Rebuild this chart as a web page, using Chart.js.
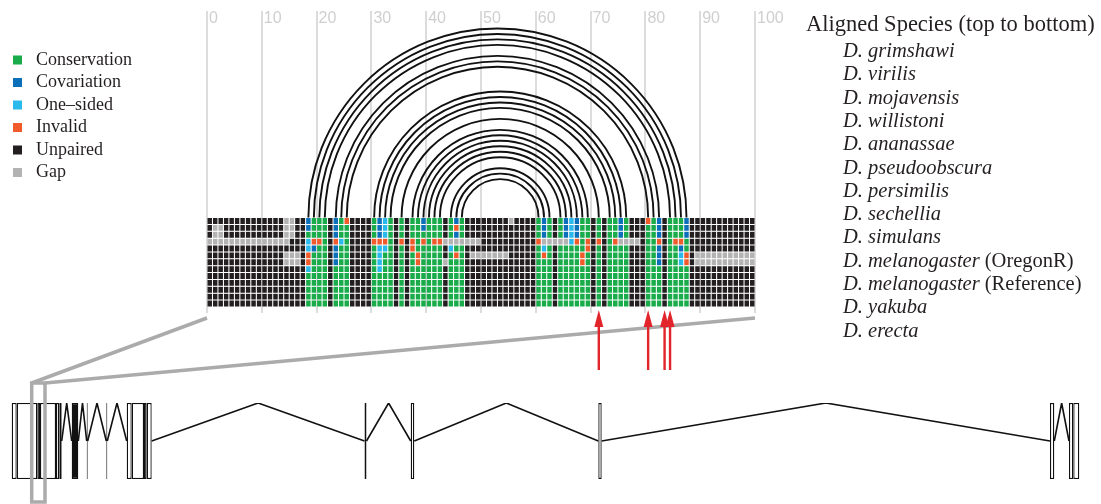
<!DOCTYPE html>
<html>
<head>
<meta charset="utf-8">
<script src="https://cdn.jsdelivr.net/npm/chart.js@4.4.1/dist/chart.umd.min.js"></script>
<style>
  html, body { margin: 0; padding: 0; background: #ffffff; }
  #wrap { position: relative; width: 1101px; height: 504px; overflow: hidden; }
  #wrap canvas { position: absolute; left: 0; top: 0; }
</style>
</head>
<body>
<div id="wrap">
  <canvas id="gene" width="1101" height="504"></canvas>
  <canvas id="align" width="1101" height="504"></canvas>
</div>
<script>
// ---- alignment data --------------------------------------------------------
const speciesNames = ['grimshawi', 'virilis', 'mojavensis', 'willistoni', 'ananassae',
  'pseudoobscura', 'persimilis', 'sechellia', 'simulans', 'melanogaster',
  'melanogaster', 'yakuba', 'erecta'];
const speciesNotes = ['', '', '', '', '', '', '', '', '', '(OregonR)', '(Reference)', '', ''];

const positionTicks = [0, 10, 20, 30, 40, 50, 60, 70, 80, 90, 100];
const alignmentLength = 100;

// base pairs of the folded structure: [5' column, 3' column]
const basePairs = [
  [18, 87], [19, 86], [20, 85], [21, 84],
  [23, 82], [24, 81], [25, 80],
  [30, 76], [31, 75], [32, 74], [33, 73],
  [35, 71],
  [37, 69], [38, 68], [39, 67], [40, 66], [41, 65], [42, 64],
  [44, 62], [45, 61], [46, 60]
];

// cell blocks per state: [firstRow, lastRow, firstColumn, lastColumn]
const gapBlocks = [
  [1, 2, 1, 2], [0, 2, 14, 15], [3, 3, 0, 14], [5, 6, 14, 16],
  [3, 3, 43, 49], [6, 6, 43, 43], [0, 0, 55, 55], [5, 5, 48, 54],
  [3, 3, 61, 65], [3, 3, 75, 78], [5, 6, 89, 99]
];
const covariationBlocks = [
  [0, 1, 18, 18], [4, 4, 19, 19], [0, 2, 23, 23], [4, 6, 23, 23], [0, 2, 31, 31],
  [0, 1, 39, 39], [0, 0, 45, 45], [2, 2, 45, 45], [0, 2, 61, 61], [0, 2, 65, 65],
  [0, 2, 67, 67], [0, 2, 75, 75], [0, 2, 82, 82], [4, 6, 82, 82], [4, 4, 86, 86],
  [0, 2, 87, 87]
];
const oneSidedBlocks = [
  [3, 4, 18, 18], [7, 7, 18, 18], [3, 3, 24, 24], [0, 2, 32, 32], [4, 7, 31, 31],
  [4, 4, 32, 32], [4, 4, 44, 44], [4, 4, 61, 61], [0, 3, 66, 66], [5, 6, 86, 86]
];
const invalidBlocks = [
  [5, 6, 18, 18], [3, 3, 19, 20], [3, 3, 23, 23], [0, 0, 25, 25], [3, 3, 30, 32],
  [3, 3, 35, 35], [3, 4, 37, 37], [5, 6, 38, 38], [3, 3, 39, 39], [3, 3, 41, 42],
  [1, 1, 45, 45], [5, 5, 45, 45], [3, 3, 60, 60], [5, 5, 61, 61], [3, 3, 67, 67],
  [5, 6, 68, 68], [3, 4, 69, 69], [3, 3, 71, 71], [3, 3, 74, 74], [0, 0, 80, 80],
  [3, 3, 82, 82], [3, 3, 85, 86], [5, 6, 87, 87]
];

// columns flagged below the alignment
const markedColumns = [71, 80, 83, 84];

// ---- gene model (kb) -------------------------------------------------------
const exonSpans = [
  [1.17, 1.67], [1.67, 3.73], [3.73, 4.0], [4.0, 5.6], [5.6, 5.93], [5.93, 6.17],
  [7.17, 7.83], [8.67, 8.77], [10.63, 10.73],
  [12.67, 13.17], [13.17, 14.4], [14.4, 14.67], [14.67, 15.17],
  [36.45, 36.65], [41.07, 41.43], [59.83, 60.17],
  [105.0, 105.43], [106.9, 107.33], [107.33, 107.93]
];
const exonFilled = [false, false, false, false, false, false,
  true, true, true,
  false, false, false, false,
  true, false, false,
  false, false, false];
const zoomWindow = [3.17, 4.5];

// ---- colours ----------------------------------------------------------------
const stateColors = {
  conservation: '#1aac4b',
  covariation: '#0c6fba',
  oneSided: '#2bb9ec',
  invalid: '#f15a2a',
  unpaired: '#231f20',
  gap: '#b3b3b3'
};
const legendEntries = [
  ['Conservation', 'conservation'], ['Covariation', 'covariation'],
  ['One\u2013sided', 'oneSided'], ['Invalid', 'invalid'],
  ['Unpaired', 'unpaired'], ['Gap', 'gap']
];

// ---- build the state matrix -------------------------------------------------
const nRows = speciesNames.length;
const pairedColumns = new Set(basePairs.flat());
const stateGrid = [];
for (let r = 0; r < nRows; r++) {
  const row = [];
  for (let c = 0; c < alignmentLength; c++) row.push(pairedColumns.has(c) ? 'conservation' : 'unpaired');
  stateGrid.push(row);
}
function paint(blocks, state) {
  blocks.forEach(([r0, r1, c0, c1]) => {
    for (let r = r0; r <= r1; r++) for (let c = c0; c <= c1; c++) stateGrid[r][c] = state;
  });
}
paint(gapBlocks, 'gap');
paint(covariationBlocks, 'covariation');
paint(oneSidedBlocks, 'oneSided');
paint(invalidBlocks, 'invalid');

const columns = Array.from({ length: alignmentLength }, (_, c) => c);
const rowDatasets = stateGrid.map((row, r) => ({
  type: 'bar',
  label: speciesNames[r],
  data: columns.map(c => ({ x: c + 0.5, y: [nRows - r - 1, nRows - r] })),
  backgroundColor: row.map(s => stateColors[s]),
  borderColor: 'rgba(255,255,255,0.28)',
  borderWidth: 0.5,
  borderSkipped: false,
  inflateAmount: 0,
  grouped: false,
  barPercentage: 1,
  categoryPercentage: 1
}));

// ---- gene model chart -------------------------------------------------------
const intronPoints = [];
for (let i = 0; i < exonSpans.length - 1; i++) {
  const s = exonSpans[i][1], e = exonSpans[i + 1][0];
  if (e > s) {
    intronPoints.push({ x: s, y: 0.5 }, { x: (s + e) / 2, y: 1 }, { x: e, y: 0.5 }, { x: e, y: null });
  }
}

const geneChart = new Chart(document.getElementById('gene'), {
  type: 'bar',
  data: {
    datasets: [
      {
        type: 'bar', indexAxis: 'y', xAxisID: 'x', yAxisID: 'yCat',
        data: exonSpans.map(([s, e]) => ({ x: [s, e], y: 'gene' })),
        backgroundColor: exonFilled.map(f => f ? '#111' : '#fff'),
        borderColor: '#111', borderWidth: 1.3, borderSkipped: false, inflateAmount: 0,
        grouped: false, barPercentage: 1, categoryPercentage: 1
      },
      {
        type: 'line', indexAxis: 'x', xAxisID: 'x', yAxisID: 'yLine',
        data: intronPoints, borderColor: '#111', borderWidth: 1.6,
        pointRadius: 0, spanGaps: false, tension: 0
      }
    ]
  },
  options: {
    responsive: false, animation: false, devicePixelRatio: 1,
    layout: { padding: { left: 0, right: 0, top: 403, bottom: 25 } },
    plugins: { legend: { display: false }, tooltip: { enabled: false } },
    scales: {
      x: { type: 'linear', min: 0, max: 110.1, offset: false, display: false },
      yCat: { type: 'category', axis: 'y', labels: ['gene'], offset: true, display: false },
      yLine: { type: 'linear', axis: 'y', min: 0, max: 1, offset: false, display: false }
    }
  }
});

// ---- overlay drawing: arcs, legend, species list, arrows, zoom guides -------
const overlayPlugin = {
  id: 'overlay',
  afterDatasetsDraw(chart) {
    const { ctx, scales: { x, y } } = chart;
    const base = y.getPixelForValue(nRows);
    ctx.save();
    ctx.strokeStyle = '#111';
    ctx.lineWidth = 1.9;
    basePairs.forEach(([i, j]) => {
      const xi = x.getPixelForValue(i + 0.5), xj = x.getPixelForValue(j + 0.5);
      ctx.beginPath();
      ctx.arc((xi + xj) / 2, base, (xj - xi) / 2, Math.PI, 2 * Math.PI);
      ctx.stroke();
    });
    ctx.restore();
  },
  afterDraw(chart) {
    const { ctx, chartArea, scales: { x } } = chart;
    ctx.save();

    // zoom guides linking the alignment window to the gene model
    const gx = geneChart.scales.x, ga = geneChart.chartArea;
    const bx0 = gx.getPixelForValue(zoomWindow[0]), bx1 = gx.getPixelForValue(zoomWindow[1]);
    const boxTop = ga.top - 20, boxBottom = ga.bottom + 23;
    ctx.strokeStyle = '#ababab';
    ctx.lineWidth = 3.5;
    ctx.beginPath();
    ctx.moveTo(x.getPixelForValue(0), chartArea.bottom + 11);
    ctx.lineTo(bx0, boxTop);
    ctx.moveTo(x.getPixelForValue(alignmentLength), chartArea.bottom + 11);
    ctx.lineTo(bx1, boxTop);
    ctx.stroke();
    ctx.strokeRect(bx0, boxTop, bx1 - bx0, boxBottom - boxTop);

    // arrows under flagged columns
    ctx.fillStyle = '#e2242b';
    ctx.strokeStyle = '#e2242b';
    ctx.lineWidth = 2.4;
    markedColumns.forEach(c => {
      const px = x.getPixelForValue(c + 0.5);
      const tip = chartArea.bottom + 3;
      ctx.beginPath();
      ctx.moveTo(px, tip + 12);
      ctx.lineTo(px, tip + 60);
      ctx.stroke();
      ctx.beginPath();
      ctx.moveTo(px, tip);
      ctx.lineTo(px - 4.5, tip + 17);
      ctx.lineTo(px + 4.5, tip + 17);
      ctx.closePath();
      ctx.fill();
    });

    // state legend
    ctx.textBaseline = 'middle';
    ctx.textAlign = 'left';
    ctx.font = '18px "Liberation Serif"';
    legendEntries.forEach(([label, key], i) => {
      const cy = 60 + i * 22.5;
      ctx.fillStyle = stateColors[key];
      ctx.fillRect(13, cy - 4.5, 9, 9);
      ctx.fillStyle = '#231f20';
      ctx.fillText(label, 36, cy);
    });

    // species list
    ctx.textBaseline = 'alphabetic';
    ctx.fillStyle = '#231f20';
    ctx.font = '22.5px "Liberation Serif"';
    ctx.fillText('Aligned Species (top to bottom)', 806, 31);
    speciesNames.forEach((name, i) => {
      const by = 57 + i * 23.3;
      ctx.font = 'italic 20.5px "Liberation Serif"';
      const head = 'D. ' + name;
      ctx.fillText(head, 843, by);
      if (speciesNotes[i]) {
        const w = ctx.measureText(head + ' ').width;
        ctx.font = '20.5px "Liberation Serif"';
        ctx.fillText(speciesNotes[i], 843 + w, by);
      }
    });
    ctx.restore();
  }
};

new Chart(document.getElementById('align'), {
  type: 'bar',
  data: { datasets: rowDatasets },
  options: {
    responsive: false, animation: false, devicePixelRatio: 1,
    layout: { padding: { left: 207, right: 346, top: 11, bottom: 191 } },
    plugins: { legend: { display: false }, tooltip: { enabled: false } },
    scales: {
      x: {
        type: 'linear', position: 'top', min: 0, max: alignmentLength, offset: false,
        afterBuildTicks: s => { s.ticks = positionTicks.map(v => ({ value: v })); },
        grid: { color: '#dcdcdc', lineWidth: 2, drawTicks: false, offset: false },
        border: { display: false },
        ticks: {
          mirror: true, align: 'start', padding: 0, labelOffset: 2, autoSkip: false,
          color: '#cfcfcf', font: { family: '"Liberation Sans"', size: 16, lineHeight: 1 }
        }
      },
      x2: {
        type: 'linear', position: 'bottom', min: 0, max: alignmentLength, offset: false,
        afterBuildTicks: s => { s.ticks = positionTicks.map(v => ({ value: v })); },
        grid: { drawOnChartArea: false, color: '#dcdcdc', lineWidth: 2, tickLength: 6, offset: false },
        border: { display: false },
        ticks: { display: false }
      },
      y: { type: 'linear', min: 0, max: 43, display: false }
    }
  },
  plugins: [overlayPlugin]
});
</script>
</body>
</html>
